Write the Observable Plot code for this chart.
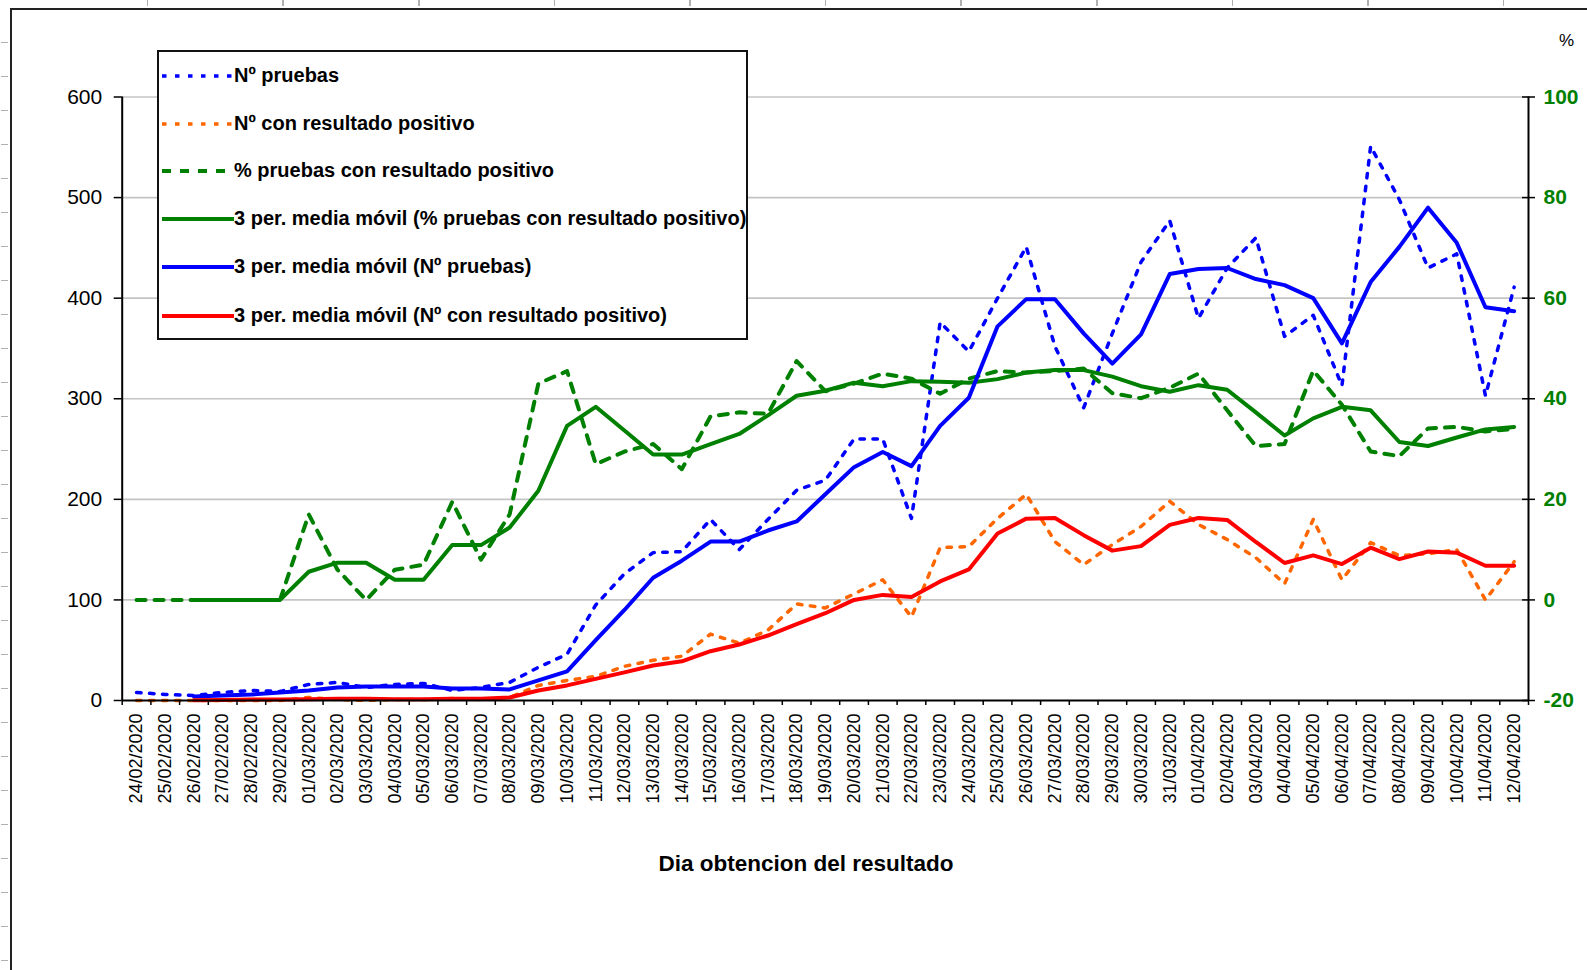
<!DOCTYPE html>
<html><head><meta charset="utf-8">
<script src="https://cdn.jsdelivr.net/npm/d3@7"></script>
<script src="https://cdn.jsdelivr.net/npm/@observablehq/plot@0.6"></script>
<style>
html,body{margin:0;padding:0;background:#fff;}
#page{position:relative;width:1587px;height:970px;overflow:hidden;font-family:"Liberation Sans",Arial,sans-serif;background:#fff;}
#chart{position:absolute;left:0;top:0;}
#frame{position:absolute;left:10px;top:8px;width:1590px;height:980px;border-left:2px solid #222;border-top:2px solid #222;}
.deco{position:absolute;background:#b0b0b0;}
#legend{position:absolute;left:157px;top:50px;width:587px;height:286px;border:2px solid #111;background:#fff;}
.item{position:absolute;left:0;height:30px;}
.item svg{position:absolute;left:3px;top:0;}
.item span{position:absolute;left:75px;top:3px;font-weight:bold;font-size:20px;white-space:nowrap;color:#000;}
#xtitle{position:absolute;left:0;width:1612px;top:851px;text-align:center;font-weight:bold;font-size:22.5px;color:#000;}
#pct{position:absolute;left:1559px;top:31px;font-size:17px;color:#000;}
</style></head>
<body><div id="page"><div id="frame"></div><div id="chart"></div><div id="legend"></div><div id="xtitle">Dia obtencion del resultado</div><div id="pct">%</div></div>
<script>
const dates = ["24/02/2020","25/02/2020","26/02/2020","27/02/2020","28/02/2020","29/02/2020",
"01/03/2020","02/03/2020","03/03/2020","04/03/2020","05/03/2020","06/03/2020","07/03/2020","08/03/2020","09/03/2020","10/03/2020",
"11/03/2020","12/03/2020","13/03/2020","14/03/2020","15/03/2020","16/03/2020","17/03/2020","18/03/2020","19/03/2020","20/03/2020",
"21/03/2020","22/03/2020","23/03/2020","24/03/2020","25/03/2020","26/03/2020","27/03/2020","28/03/2020","29/03/2020","30/03/2020","31/03/2020",
"01/04/2020","02/04/2020","03/04/2020","04/04/2020","05/04/2020","06/04/2020","07/04/2020","08/04/2020","09/04/2020","10/04/2020","11/04/2020","12/04/2020"];

const pruebas = [8, 6, 5, 8, 10, 9, 16, 18, 13, 16, 17, 10, 13, 18, 33, 46, 95, 126, 147, 148, 180, 150, 180, 209, 219, 260, 260, 181, 376, 347, 400, 451, 352, 291, 365, 436, 477, 380, 430, 460, 362, 383, 313, 551, 498, 430, 444, 303, 411];
const positivos = [0, 0, 0, 0, 0, 0, 3, 1, 0, 1, 1, 2, 1, 3, 15, 20, 24, 34, 40, 44, 66, 57, 70, 96, 92, 106, 120, 83, 152, 153, 181, 205, 158, 135, 155, 173, 198, 175, 160, 142, 116, 180, 120, 157, 144, 146, 150, 100, 138];
const pctPositivos = [0, 0, 0, 0, 0, 0, 17, 6, 0, 6, 7, 19.5, 8, 17, 43, 45.5, 27, 29.5, 31, 26, 36.5, 37.3, 37, 47.5, 41.5, 43, 45, 44, 41, 44, 45.5, 45.2, 45.5, 46, 41.1, 40.1, 42.2, 45, 37.7, 30.6, 31, 45.6, 38.8, 29.5, 28.6, 34.1, 34.4, 33.5, 34];
const mmPct = [null, null, 0, 0, 0, 0, 5.6, 7.4, 7.4, 4, 4, 10.9, 10.9, 14.4, 21.7, 34.6, 38.4, 33.7, 28.9, 28.9, 31, 33, 36.7, 40.6, 41.6, 43.2, 42.5, 43.5, 43.4, 43.2, 43.9, 45.2, 45.7, 45.7, 44.4, 42.5, 41.4, 42.7, 41.8, 37.3, 32.7, 36.1, 38.4, 37.7, 31.4, 30.6, 32.3, 33.9, 34.4];
const mmPruebas = [null, null, 4, 5, 6, 8, 10, 13, 14, 14, 14, 12, 12, 11, 20, 29, 60, 90, 122, 139, 158, 158, 169, 178, 205, 232, 247, 233, 273, 301, 372, 399, 399, 365, 335, 364, 424, 429, 430, 419, 413, 400, 355, 416, 451, 490, 455, 391, 387];
const mmPositivos = [null, null, 0.3, 0.5, 1, 1, 1.3, 1.7, 1.7, 1.3, 1.3, 1.7, 1.7, 3, 10, 15, 21.5, 28, 34.8, 39, 49, 55.7, 64.6, 76, 86.8, 100, 105, 103, 118.4, 130.3, 166, 180.8, 181.4, 164.4, 149, 153.5, 174.6, 181.4, 179.5, 157.6, 136.7, 144.3, 135.6, 151.9, 140.5, 148.1, 147, 134, 134];

const leftTicks = [0, 100, 200, 300, 400, 500, 600];
// right axis (%) maps onto left units: left = 100 + 5 * pct
const pctToLeft = p => (p == null ? NaN : 100 + 5 * p);
const leftToPct = v => String((v - 100) / 5);

const series = [
  {name: "Nº pruebas", values: pruebas, pct: false, color: "#0000ff", width: 3.5, dash: "4.5,8.5"},
  {name: "Nº con resultado positivo", values: positivos, pct: false, color: "#ff6600", width: 3.5, dash: "4.5,8.5"},
  {name: "% pruebas con resultado positivo", values: pctPositivos, pct: true, color: "#008000", width: 4, dash: "9,9"},
  {name: "3 per. media móvil (% pruebas con resultado positivo)", values: mmPct, pct: true, color: "#008000", width: 4, dash: null},
  {name: "3 per. media móvil (Nº pruebas)", values: mmPruebas, pct: false, color: "#0000ff", width: 4, dash: null},
  {name: "3 per. media móvil (Nº con resultado positivo)", values: mmPositivos, pct: false, color: "#ff0000", width: 4, dash: null}
];

const lineMarks = series.map(s => Plot.line(
  s.values.map((v, i) => ({i, v: s.pct ? pctToLeft(v) : (v == null ? NaN : v)})),
  {x: "i", y: "v", stroke: s.color, strokeWidth: s.width, strokeDasharray: s.dash, strokeLinejoin: "round", curve: "linear"}
));

const idx = d3.range(dates.length);
const bounds = d3.range(dates.length + 1).map(k => k - 0.5);

const chart = Plot.plot({
  width: 1587, height: 970,
  marginLeft: 121.7, marginRight: 59, marginTop: 96.5, marginBottom: 270,
  style: {fontFamily: '"Liberation Sans", Arial, sans-serif', fontSize: "18px", color: "#000", background: "transparent"},
  x: {type: "linear", domain: [-0.5, dates.length - 0.5]},
  y: {domain: [0, 600]},
  marks: [
    Plot.ruleY(leftTicks.filter(t => t > 0), {stroke: "#c4c4c4", strokeWidth: 1.6}),
    ...lineMarks,
    Plot.ruleX([-0.5], {stroke: "#000", strokeWidth: 2}),
    Plot.ruleX([dates.length - 0.5], {stroke: "#000", strokeWidth: 2}),
    Plot.ruleY([0], {stroke: "#000", strokeWidth: 2}),
    Plot.axisY({anchor: "left", ticks: leftTicks, tickSize: 8, tickPadding: 12, fontSize: 21, label: null, strokeWidth: 1.5}),
    Plot.axisY({anchor: "right", ticks: leftTicks, tickSize: 13, dx: -7, tickFormat: () => "", label: null, strokeWidth: 1.5}),
    Plot.axisY({anchor: "right", ticks: leftTicks, tickSize: 0, tickPadding: 15, tickFormat: leftToPct, fontSize: 21, fontWeight: "bold", fill: "#008000", label: null}),
    Plot.axisX({ticks: bounds, tickSize: 5, tickFormat: () => "", label: null, strokeWidth: 1.5}),
    Plot.axisX({ticks: idx, tickSize: 0, tickPadding: 13, tickRotate: -90, tickFormat: i => dates[i], fontSize: 18, label: null})
  ]
});
document.getElementById("chart").appendChild(chart);

// legend
const legend = d3.select("#legend");
const legendTops = [9, 56.5, 104, 151.6, 200, 248.8];
series.forEach((s, k) => {
  const item = legend.append("div").attr("class", "item").style("top", legendTops[k] + "px").style("width", "580px");
  const svg = item.append("svg").attr("width", 72).attr("height", 30);
  svg.append("line").attr("x1", 0).attr("x2", 72).attr("y1", 15).attr("y2", 15)
    .attr("stroke", s.color).attr("stroke-width", s.width)
    .attr("stroke-dasharray", s.dash);
  item.append("span").text(s.name);
});

// decorative sheet tick marks outside the frame
const page = document.getElementById("page");
for (let x = 146.8; x < 1587; x += 135.6) {
  const d = document.createElement("div"); d.className = "deco";
  Object.assign(d.style, {left: x + "px", top: "0px", width: "1.5px", height: "6px"}); page.appendChild(d);
}
for (let y = 7.7 + 34; y < 970; y += 34) {
  const d = document.createElement("div"); d.className = "deco";
  Object.assign(d.style, {left: "1px", top: y + "px", width: "7px", height: "1.5px"}); page.appendChild(d);
}
</script>
</body></html>
